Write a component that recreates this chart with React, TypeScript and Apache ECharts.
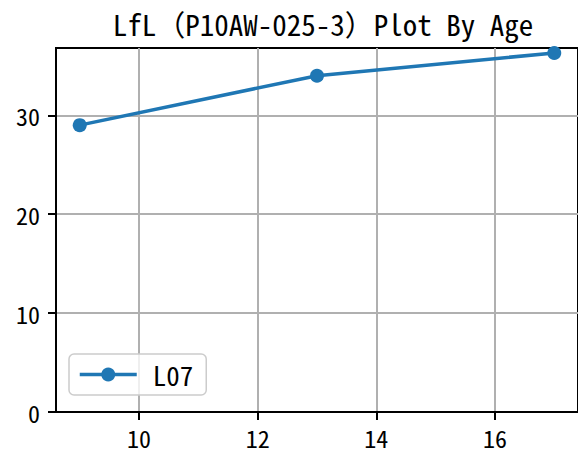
import React, { useEffect, useRef } from "react";
import * as echarts from "echarts";

const titleText = "LfL（P10AW-025-3）Plot By Age";
const seriesName = "L07";
const ages = [9, 13, 17];
const values = [29, 34, 36.3];
const xTicks = [10, 12, 14, 16];
const yTicks = [0, 10, 20, 30];

const FONT = "'Noto Sans Mono CJK SC', 'DejaVu Sans Mono', 'Noto Sans CJK SC', monospace";

export default function App() {
  const ref = useRef<HTMLDivElement>(null);
  useEffect(() => {
    if (!ref.current) return;
    const chart = echarts.init(ref.current, null, { renderer: "svg" });
    chart.setOption({
      animation: false,
      backgroundColor: "#ffffff",
      title: {
        text: titleText,
        left: 318,
        textAlign: "center",
        top: 3,
        textStyle: { fontFamily: FONT, fontSize: 29, fontWeight: "normal", color: "#000" },
      },
      grid: {
        left: 56,
        top: 48,
        right: -3,
        bottom: 43,
        show: true,
        borderColor: "#000",
        borderWidth: 2,
        backgroundColor: "transparent",
      },
      legend: {
        left: 69,
        top: 354,
        orient: "vertical",
        backgroundColor: "rgba(255,255,255,0.8)",
        borderColor: "#cccccc",
        borderWidth: 1.5,
        borderRadius: 5,
        padding: [7, 13, 7, 9],
        itemWidth: 57,
        itemHeight: 17.5,
        lineStyle: { width: 3.5, color: "#1f77b4" },
        textStyle: { fontFamily: FONT, fontSize: 27, color: "#000", padding: [0, 0, 0, 11] },
        data: [seriesName],
      },
      xAxis: {
        type: "value",
        min: 8.6,
        max: 17.4,
        axisLine: { show: true, onZero: false, lineStyle: { color: "#000", width: 2 } },
        axisTick: { show: true, length: 8, lineStyle: { color: "#000", width: 2 }, customValues: xTicks },
        axisLabel: { customValues: xTicks, margin: 13, fontFamily: FONT, fontSize: 24, color: "#000" },
        splitLine: { show: true, lineStyle: { color: "#b0b0b0", width: 2 } },
      },
      yAxis: {
        type: "value",
        min: 0,
        max: 36.8,
        axisLine: { show: true, onZero: false, lineStyle: { color: "#000", width: 2 } },
        axisTick: { show: true, length: 8, lineStyle: { color: "#000", width: 2 }, customValues: yTicks },
        axisLabel: { customValues: yTicks, margin: 16, fontFamily: FONT, fontSize: 24, color: "#000" },
        splitLine: { show: true, lineStyle: { color: "#b0b0b0", width: 2 } },
      },
      series: [
        {
          name: seriesName,
          type: "line",
          data: ages.map((a, i) => [a, values[i]]),
          symbol: "circle",
          symbolSize: 14,
          lineStyle: { color: "#1f77b4", width: 3.5 },
          itemStyle: { color: "#1f77b4" },
          clip: false,
          z: 3,
        },
      ],
    });
    return () => chart.dispose();
  }, []);
  return (
    <div
      ref={ref}
      style={{ position: "fixed", left: 0, top: 0, width: 578, height: 455 }}
    />
  );
}
